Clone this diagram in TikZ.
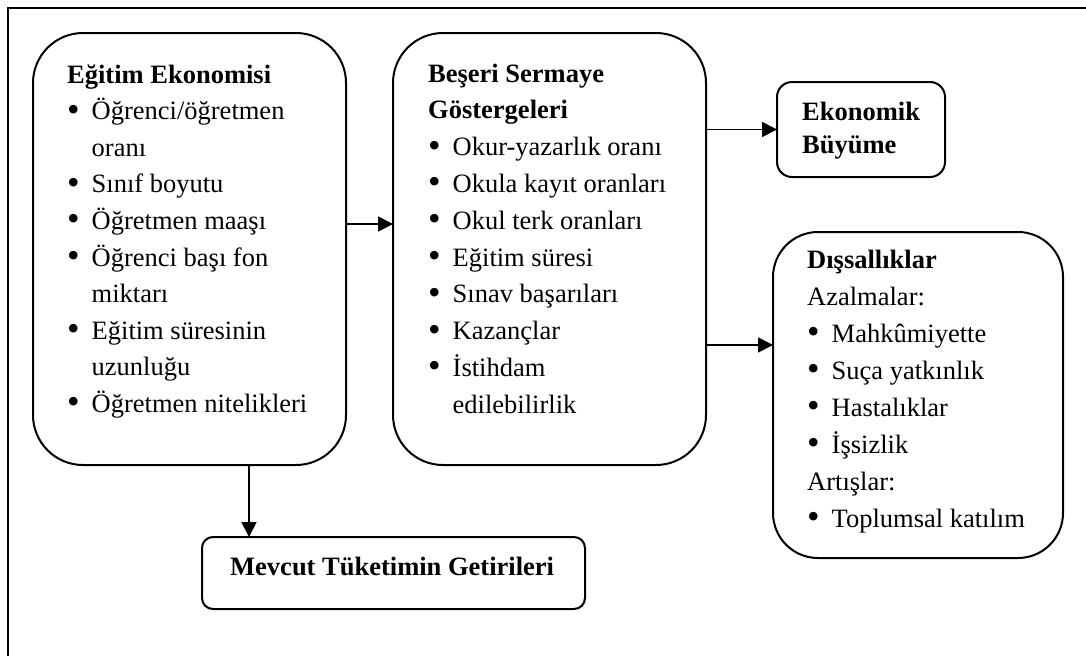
\documentclass[tikz,border=0pt]{standalone}
\usepackage{fontspec}
\setmainfont{Liberation Serif}
\usetikzlibrary{arrows.meta}
% bullet and hanging indent for list lines
\newcommand{\bul}{\makebox[24.5pt][l]{\raisebox{-1.5pt}{\scalebox{1.35}{•}}}}
\newcommand{\ind}{\hspace*{24.5pt}}
\begin{document}
\begin{tikzpicture}[x=1pt,y=-1pt,
  box/.style={draw, line width=2pt, inner sep=0pt, outer sep=0pt},
  txt/.style={anchor=base west, inner sep=0pt, font=\fontsize{26.5pt}{36.6pt}\selectfont},
  conn/.style={line width=1.8pt, -{Triangle[length=15pt,width=15pt]}}]
\useasboundingbox (0,0) rectangle (1086,656);
% page frame
\draw[line width=2pt] (7.5,656) -- (7.5,7.5) -- (1086,7.5);

% boxes
\node[box, rounded corners=50pt, minimum width=313pt, minimum height=432pt] (egt) at (189.5,249) {};
\node[box, rounded corners=50pt, minimum width=313pt, minimum height=432pt] (bsr) at (549.5,249) {};
\node[box, rounded corners=15pt, minimum width=168pt, minimum height=95pt] (eko) at (861,129.5) {};
\node[box, rounded corners=45pt, minimum width=290pt, minimum height=326pt] (dis) at (918,395) {};
\node[box, rounded corners=11pt, minimum width=383pt, minimum height=72pt] (mev) at (393.5,573) {};

% text of the first box
\foreach \t [count=\i] in {\textbf{Eğitim Ekonomisi}, \bul Öğrenci/öğretmen, \ind oranı,
    \bul Sınıf boyutu, \bul Öğretmen maaşı, \bul Öğrenci başı fon, \ind miktarı,
    \bul Eğitim süresinin, \ind uzunluğu, \bul Öğretmen nitelikleri}
  \node[txt] (egt-\i) at (67,{83+36.6*(\i-1)}) {\t};

% text of the second box
\foreach \t [count=\i] in {\textbf{Beşeri Sermaye}, \textbf{Göstergeleri}, \bul Okur-yazarlık oranı,
    \bul Okula kayıt oranları, \bul Okul terk oranları, \bul Eğitim süresi,
    \bul Sınav başarıları, \bul Kazançlar, \bul İstihdam, \ind edilebilirlik}
  \node[txt] (bsr-\i) at (428,{82+36.8*(\i-1)}) {\t};

% economic growth
\node[txt] (eko-1) at (802,120) {\textbf{Ekonomik}};
\node[txt] (eko-2) at (802,153) {\textbf{Büyüme}};

% externalities
\foreach \t [count=\i] in {\textbf{Dışsallıklar}, Azalmalar:, \bul Mahkûmiyette,
    \bul Suça yatkınlık, \bul Hastalıklar, \bul İşsizlik, Artışlar:, \bul Toplumsal katılım}
  \node[txt] (dis-\i) at (807,{268+37*(\i-1)}) {\t};

% returns of current consumption
\node[txt] (mev-1) at (230,575) {\textbf{Mevcut Tüketimin Getirileri}};

% connectors
\coordinate (y1) at (0,224);
\coordinate (y2) at (0,345);
\coordinate (x1) at (249,0);
\draw[conn] (egt.east |- y1) -- (bsr.west |- y1);
\draw[conn] (bsr.east |- eko.west) -- (eko.west);
\draw[conn] (bsr.east |- y2) -- (dis.west |- y2);
\draw[conn] (egt.south -| x1) -- (mev.north -| x1);
\end{tikzpicture}
\end{document}
